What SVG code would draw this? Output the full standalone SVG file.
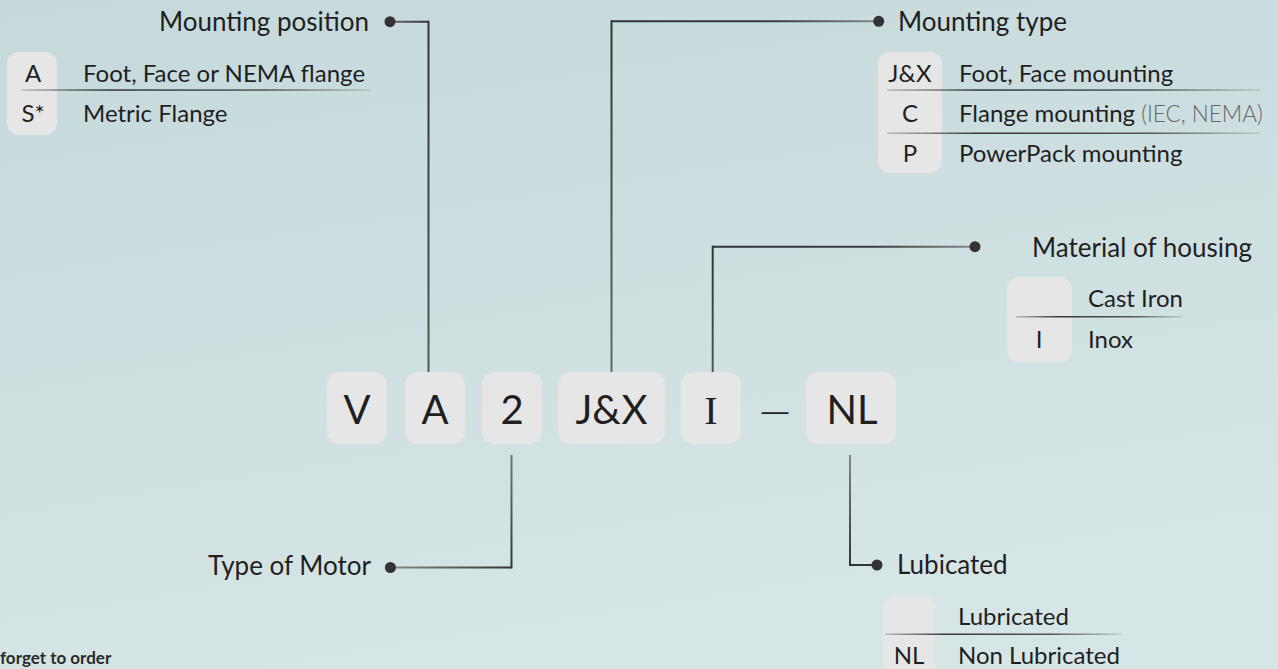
<svg xmlns="http://www.w3.org/2000/svg" width="1278" height="669" viewBox="0 0 1278 669">
<defs>
<linearGradient id="bg" x1="0" y1="0" x2="0.3" y2="1">
<stop offset="0" stop-color="#c5d9db"/>
<stop offset="1" stop-color="#d6e5e6"/>
</linearGradient>
<linearGradient id="sepG" x1="0" y1="0" x2="1" y2="0">
<stop offset="0" stop-color="#333" stop-opacity="0.25"/>
<stop offset="0.25" stop-color="#2e2e2e" stop-opacity="0.95"/>
<stop offset="0.7" stop-color="#333" stop-opacity="0.8"/>
<stop offset="1" stop-color="#444" stop-opacity="0.15"/>
</linearGradient>
<linearGradient id="g1h" gradientUnits="userSpaceOnUse" x1="390" y1="0" x2="428.5" y2="0"><stop offset="0" stop-color="#666"/><stop offset="1" stop-color="#333"/></linearGradient>
<linearGradient id="g1v" gradientUnits="userSpaceOnUse" x1="0" y1="21.7" x2="0" y2="372"><stop offset="0" stop-color="#333"/><stop offset="1" stop-color="#555"/></linearGradient>
<linearGradient id="g2h" gradientUnits="userSpaceOnUse" x1="611.5" y1="0" x2="878.7" y2="0"><stop offset="0" stop-color="#333"/><stop offset="0.6" stop-color="#3a3a3a"/><stop offset="1" stop-color="#888"/></linearGradient>
<linearGradient id="g2v" gradientUnits="userSpaceOnUse" x1="0" y1="21.3" x2="0" y2="372"><stop offset="0" stop-color="#333"/><stop offset="1" stop-color="#666"/></linearGradient>
<linearGradient id="g3h" gradientUnits="userSpaceOnUse" x1="712.7" y1="0" x2="975" y2="0"><stop offset="0" stop-color="#333"/><stop offset="0.6" stop-color="#3a3a3a"/><stop offset="1" stop-color="#888"/></linearGradient>
<linearGradient id="g3v" gradientUnits="userSpaceOnUse" x1="0" y1="246.7" x2="0" y2="372"><stop offset="0" stop-color="#333"/><stop offset="1" stop-color="#555"/></linearGradient>
<linearGradient id="g4h" gradientUnits="userSpaceOnUse" x1="390.4" y1="0" x2="511.5" y2="0"><stop offset="0" stop-color="#888"/><stop offset="1" stop-color="#333"/></linearGradient>
<linearGradient id="g4v" gradientUnits="userSpaceOnUse" x1="0" y1="455" x2="0" y2="567.5"><stop offset="0" stop-color="#777"/><stop offset="1" stop-color="#333"/></linearGradient>
<linearGradient id="g5v" gradientUnits="userSpaceOnUse" x1="0" y1="455" x2="0" y2="565"><stop offset="0" stop-color="#888"/><stop offset="1" stop-color="#333"/></linearGradient>
</defs>
<style>
text{font-family:Lato,"Noto Sans","Liberation Sans",sans-serif;fill:#1f1f1f}
.hd{font-size:26px}
.rw{font-size:24px}
.cd{font-size:24px;text-anchor:middle}
.big{font-size:40px;text-anchor:middle}
.box{fill:#e6e6e6}
.dot{fill:#333}
.ln{fill:none;stroke-width:2}
.note{fill:#666;font-weight:300;font-size:22.5px}
</style>
<rect width="1278" height="669" fill="url(#bg)"/>

<g id="connectors">
<path class="ln" d="M390,21.7H428.5" stroke="url(#g1h)"/>
<path class="ln" d="M428.5,20.7V372" stroke="url(#g1v)"/>
<circle class="dot" cx="390" cy="21.7" r="5.5"/>
<path class="ln" d="M878.7,21.3H611.5" stroke="url(#g2h)"/>
<path class="ln" d="M611.5,20.3V372" stroke="url(#g2v)"/>
<circle class="dot" cx="878.7" cy="21.3" r="5.5"/>
<path class="ln" d="M975,246.7H712.7" stroke="url(#g3h)"/>
<path class="ln" d="M712.7,245.7V372" stroke="url(#g3v)"/>
<circle class="dot" cx="975" cy="246.7" r="5.5"/>
<path class="ln" d="M390.4,567.5H511.5" stroke="url(#g4h)"/>
<path class="ln" d="M511.5,568.5V455" stroke="url(#g4v)"/>
<circle class="dot" cx="390.4" cy="567.5" r="5.5"/>
<path class="ln" d="M850,455V565H877" stroke="url(#g5v)"/>
<circle class="dot" cx="877" cy="565" r="5.5"/>
</g>

<g id="code">
<rect class="box" x="327" y="372" width="60" height="72" rx="13"/>
<text class="big" x="357" y="424">V</text>
<rect class="box" x="405" y="372" width="60" height="72" rx="13"/>
<text class="big" x="435" y="424">A</text>
<rect class="box" x="482" y="372" width="60" height="72" rx="13"/>
<text class="big" x="512" y="424">2</text>
<rect class="box" x="558" y="372" width="107" height="72" rx="13"/>
<text class="big" x="611.5" y="424">J&amp;X</text>
<rect class="box" x="681" y="372" width="60" height="72" rx="13"/>
<text class="big" x="711" y="424" style="font-family:'Liberation Serif',serif">I</text>
<text class="big" x="775" y="420" style="font-family:'Liberation Sans',sans-serif;font-size:27px">—</text>
<rect class="box" x="806" y="372" width="90" height="72" rx="13"/>
<text class="big" x="852" y="424">NL</text>
</g>

<g id="mounting-position">
<text class="hd" x="369" y="31" text-anchor="end">Mounting position</text>
<rect class="box" x="7" y="52" width="50" height="83" rx="12"/>
<rect x="22" y="89.3" width="349" height="1.5" fill="url(#sepG)"/>
<text class="cd" x="33" y="81.7">A</text>
<text class="rw" x="83" y="81.7">Foot, Face or NEMA flange</text>
<text class="cd" x="33" y="121.7">S*</text>
<text class="rw" x="83" y="121.7">Metric Flange</text>
</g>

<g id="mounting-type">
<text class="hd" x="898" y="31">Mounting type</text>
<rect class="box" x="878" y="52" width="64" height="121" rx="12"/>
<rect x="887" y="89.3" width="373" height="1.5" fill="url(#sepG)"/>
<rect x="887" y="132.5" width="373" height="1.5" fill="url(#sepG)"/>
<text class="cd" x="910" y="81.7">J&amp;X</text>
<text class="rw" x="959" y="81.7">Foot, Face mounting</text>
<text class="cd" x="910" y="121.7">C</text>
<text class="rw" x="959" y="121.7">Flange mounting <tspan class="note">(IEC, NEMA)</tspan></text>
<text class="cd" x="910" y="161.7">P</text>
<text class="rw" x="959" y="161.7">PowerPack mounting</text>
</g>

<g id="material-of-housing">
<text class="hd" x="1252" y="256.7" text-anchor="end">Material of housing</text>
<rect class="box" x="1007" y="277" width="65" height="85" rx="12"/>
<rect x="1016" y="316" width="167" height="1.5" fill="url(#sepG)"/>
<text class="rw" x="1088" y="307.3">Cast Iron</text>
<text class="cd" x="1039" y="347.7">I</text>
<text class="rw" x="1088" y="347.7">Inox</text>
</g>

<g id="type-of-motor">
<text class="hd" x="371" y="574.6" text-anchor="end">Type of Motor</text>
</g>

<g id="lubicated">
<text class="hd" x="897" y="574.3">Lubicated</text>
<rect class="box" x="883" y="596" width="52" height="95" rx="12"/>
<rect x="885" y="633.5" width="237" height="1.5" fill="url(#sepG)"/>
<text class="rw" x="958" y="625">Lubricated</text>
<text class="cd" x="909" y="664.3">NL</text>
<text class="rw" x="958" y="664.3">Non Lubricated</text>
</g>

<text x="0" y="664" style="font-size:17px;font-weight:700;fill:#2a2a2a">forget to order</text>
</svg>
